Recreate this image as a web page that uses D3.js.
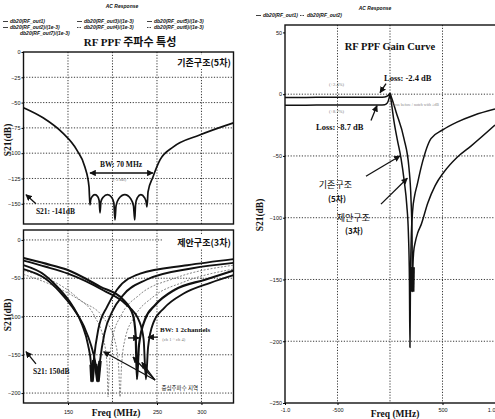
<!DOCTYPE html>
<html>
<head>
<meta charset="utf-8">
<script src="https://cdn.jsdelivr.net/npm/d3@7/dist/d3.min.js"></script>
<style>
  body { margin: 0; background: #fff; }
  svg { display: block; }
  text { font-family: "Liberation Serif", serif; fill: #111; }
  .kr { font-family: "Noto Sans CJK KR", sans-serif; }
  .tick text { font-family: "Liberation Sans", sans-serif; font-size: 5.5px; }
  .legend text { font-family: "Liberation Sans", sans-serif; font-size: 5px; font-style: italic; font-weight: bold; }
</style>
</head>
<body>
<svg id="chart" width="495" height="419"></svg>
<script>
// ---- data: left top (existing 5th-order structure) ----
const topFreq = [100, 122, 144, 160, 169, 173.6, 174.7, 175.5, 177, 180.3, 183.5, 185, 186,
  187, 189.5, 194.4, 199, 201.5, 202.8, 204, 207, 213.9, 220.5, 223.6, 225,
  226, 228, 231.9, 236, 237.8, 238.8, 240, 245.5, 253.4, 268, 298, 336];
const topS21 = [-55, -65, -80, -97, -113.6, -133, -151, -146, -143, -141, -143, -147, -159,
  -148, -143.5, -141, -143.5, -149, -166, -152, -145, -141, -145, -152, -166,
  -150, -144, -141, -144, -148, -153, -138, -123.5, -106.7, -94, -82, -70];

// ---- data: left bottom (proposed 3rd-order, several channels) ----
const ch1Freq = [100, 124, 141, 154.5, 166, 172.5, 176, 177, 179, 184, 194, 205, 231, 284, 336];
const ch1S21  = [-33, -46, -65, -85, -111, -137, -163, -185, -157, -117, -87, -65, -44, -33, -25];
const ch2Freq = [100, 124, 141, 155, 168, 176, 181, 183.7, 186, 191, 200, 212, 238, 290, 336];
const ch2S21  = [-38, -50, -68, -88, -113, -138, -162, -185, -158, -122, -93, -72, -52, -37, -30];
const ch3Freq = [100, 125, 149, 186, 212, 223, 226, 227.5, 229.8, 236.5, 248, 270, 304, 336];
const ch3S21  = [-23.5, -31, -39, -61, -78, -98, -124, -182, -137, -104, -85, -65, -52, -40];
const ch4Freq = [100, 125, 150, 190, 215, 230, 235, 237.6, 240, 246, 258, 280, 310, 336];
const ch4S21  = [-27, -35, -44, -66, -84, -106, -130, -182, -140, -108, -89, -70, -56, -46];
const sub1Freq = [100, 130, 160, 180, 190, 194, 195, 196.5, 200, 210, 230, 270, 336];
const sub1S21  = [-40, -52, -75, -100, -130, -165, -205, -165, -128, -98, -72, -50, -33];
const sub2Freq = [100, 130, 165, 190, 203, 207, 208.5, 210, 214, 225, 245, 280, 336];
const sub2S21  = [-45, -58, -80, -102, -133, -168, -205, -168, -130, -100, -75, -55, -38];

// ---- data: right (gain curve) ----
const gain5Freq = [-1000, -800, -600, -400, -200, -100, -50, -20, 0, 12, 38, 70, 105, 135, 160, 175, 185,
  190, 195, 202, 215, 235, 257, 300, 390, 500, 638, 800, 1000];
const gain5S21 = [-2.6, -2.6, -2.5, -2.5, -2.4, -2.4, -2.2, -1.2, 0.5, -6, -22, -37, -52, -70, -90, -112, -150,
  -205, -150, -118, -95, -82, -74, -58, -36, -29, -22.6, -17, -12];
const gain3Freq = [-1000, -800, -600, -400, -200, -100, -50, -25, -8, 0, 10, 60, 133, 181, 200, 210, 214,
  218, 225, 240, 265, 295, 360, 430, 514, 640, 771, 1000];
const gain3S21 = [-8.9, -8.9, -8.8, -8.8, -8.7, -8.7, -8.5, -7, -3, 0.5, -1.6, -15, -36, -60, -85, -115, -160,
  -140, -128, -120, -112, -106, -88, -74, -63, -51, -42, -25];

// ---- ticks ----
const leftXGrid = [150, 200, 250, 300];
const leftXTicks = [150, 250, 300];
const topYTicks = [0, -25, -50, -75, -100, -125, -150];
const botYTicks = [0, -50, -100, -150, -200];
const rightXGrid = [-500, 0, 500];
const rightXTicks = [-1000, -500, 500, 1000];
const rightXLabels = ['-1.0', '-500', '500', '1.0'];
const rightYTicks = [50, 0, -50, -100, -150, -200, -250];
const rightYGrid = [0, -50, -100, -150, -200];

const leftLegend = ['db20(RF_out1)', 'db20(RF_out3)/(1e-3)', 'db20(RF_out5)/(1e-3)',
  'db20(RF_out2)/(1e-3)', 'db20(RF_out4)/(1e-3)', 'db20(RF_out6)/(1e-3)', 'db20(RF_out7)/(1e-3)'];
const rightLegend = ['db20(RF_out1)', 'db20(RF_out2)'];

const svg = d3.select('#chart');

const defs = svg.append('defs');
defs.append('marker')
  .attr('id', 'arrow')
  .attr('viewBox', '0 0 10 10')
  .attr('refX', 9).attr('refY', 5)
  .attr('markerWidth', 5).attr('markerHeight', 5)
  .attr('orient', 'auto-start-reverse')
  .append('path')
  .attr('d', 'M0,0 L10,5 L0,10 z')
  .attr('fill', '#111');

// Draw a framed plot with dotted grid
function drawFrame(id, x, y, xGrid, yGrid, frameRight) {
  const [xl, xr] = x.range();
  const [yb, yt] = y.range();
  const right = frameRight || xr;
  const g = svg.append('g');

  defs.append('clipPath').attr('id', id)
    .append('rect').attr('x', xl).attr('y', yt).attr('width', right - xl).attr('height', yb - yt);

  g.selectAll('.vg').data(xGrid).join('line')
    .attr('x1', d => x(d)).attr('x2', d => x(d))
    .attr('y1', yt).attr('y2', yb)
    .attr('stroke', '#222').attr('stroke-width', 0.9)
    .attr('stroke-dasharray', '1.2,1.6');

  g.selectAll('.hg').data(yGrid).join('line')
    .attr('x1', xl).attr('x2', right)
    .attr('y1', d => y(d)).attr('y2', d => y(d))
    .attr('stroke', '#222').attr('stroke-width', 0.9)
    .attr('stroke-dasharray', '1.2,1.6');

  g.append('rect')
    .attr('x', xl).attr('y', yt)
    .attr('width', right - xl).attr('height', yb - yt)
    .attr('fill', 'none').attr('stroke', '#111').attr('stroke-width', 1.4);
  return g;
}

function drawCurve(id, x, y, freq, s21, width, dash, color) {
  const pts = freq.map((f, i) => [f, s21[i]]);
  const line = d3.line()
    .x(d => x(d[0]))
    .y(d => y(d[1]))
    .curve(d3.curveMonotoneX);
  svg.append('path')
    .datum(pts)
    .attr('clip-path', `url(#${id})`)
    .attr('d', line)
    .attr('fill', 'none')
    .attr('stroke', color || '#111')
    .attr('stroke-width', width)
    .attr('stroke-dasharray', dash || null)
    .attr('stroke-linejoin', 'round');
}

// heavy blob at the bottom of a notch (the scan shows these as dense black marks)
function drawNotch(id, x, y, freq, s21, lo, hi, width) {
  const pts = freq.map((f, i) => [f, s21[i]]).filter(d => d[1] <= hi && d[1] >= lo);
  svg.append('path')
    .datum(pts)
    .attr('clip-path', `url(#${id})`)
    .attr('d', d3.line().x(d => x(d[0])).y(d => y(d[1])))
    .attr('fill', 'none')
    .attr('stroke', '#111')
    .attr('stroke-width', width);
}

function arrow(x, y, a, b, both) {
  svg.append('line')
    .attr('x1', x(a[0])).attr('y1', y(a[1]))
    .attr('x2', x(b[0])).attr('y2', y(b[1]))
    .attr('stroke', '#111').attr('stroke-width', 1.3)
    .attr('marker-end', 'url(#arrow)')
    .attr('marker-start', both ? 'url(#arrow)' : null);
}

function label(x, y, pos, txt, size, opts) {
  opts = opts || {};
  return svg.append('text')
    .attr('class', opts.kr ? 'kr' : null)
    .attr('x', x(pos[0])).attr('y', y(pos[1]))
    .attr('text-anchor', opts.anchor || 'start')
    .attr('font-size', size)
    .attr('font-weight', opts.normal ? 'normal' : 'bold')
    .style('fill', opts.color || '#111')
    .text(txt);
}

// ================= LEFT PANEL =================
const xL = d3.scaleLinear().domain([100, 336]).range([23.5, 233.5]);
const yTop = d3.scaleLinear().domain([-170, 0]).range([224, 52]);
const yBot = d3.scaleLinear().domain([-213, 13]).range([403, 230]);

drawFrame('clipTop', xL, yTop, leftXGrid, topYTicks.filter(d => d < 0));
drawFrame('clipBot', xL, yBot, leftXGrid, botYTicks);

svg.append('g').attr('transform', 'translate(23.5,0)')
  .call(d3.axisLeft(yTop).tickValues(topYTicks).tickSize(2).tickPadding(1))
  .call(g => g.select('.domain').remove());
svg.append('g').attr('transform', 'translate(23.5,0)')
  .call(d3.axisLeft(yBot).tickValues(botYTicks).tickSize(2).tickPadding(1))
  .call(g => g.select('.domain').remove());
svg.append('g').attr('transform', 'translate(0,403)')
  .call(d3.axisBottom(xL).tickValues(leftXTicks).tickSize(2).tickPadding(5))
  .call(g => g.select('.domain').remove());

drawCurve('clipTop', xL, yTop, topFreq, topS21, 1.7);

drawCurve('clipBot', xL, yBot, sub1Freq, sub1S21, 0.8, '2,1.5', '#666');
drawCurve('clipBot', xL, yBot, sub2Freq, sub2S21, 0.8, '2,1.5', '#666');
drawCurve('clipBot', xL, yBot, ch1Freq, ch1S21, 1.9);
drawCurve('clipBot', xL, yBot, ch2Freq, ch2S21, 1.9);
drawCurve('clipBot', xL, yBot, ch3Freq, ch3S21, 2.2);
drawCurve('clipBot', xL, yBot, ch4Freq, ch4S21, 1.9);
[[ch1Freq, ch1S21], [ch2Freq, ch2S21], [ch3Freq, ch3S21], [ch4Freq, ch4S21]]
  .forEach(c => drawNotch('clipBot', xL, yBot, c[0], c[1], -190, -150, 3.5));

// titles
svg.append('text').attr('x', 122).attr('y', 8)
  .attr('text-anchor', 'middle').attr('font-size', 5).attr('font-style', 'italic').attr('font-weight', 'bold')
  .style('font-family', 'Liberation Sans, sans-serif').text('AC Response');
svg.append('text').attr('x', 130).attr('y', 46).attr('text-anchor', 'middle')
  .attr('font-size', 11).attr('font-weight', 'bold')
  .html('RF PPF <tspan class="kr">주파수 특성</tspan>');

// left legend
const legL = svg.append('g').attr('class', 'legend');
leftLegend.forEach((t, i) => {
  const col = i < 6 ? i % 3 : 0;
  const row = i < 6 ? Math.floor(i / 3) : 2;
  const lx = [3, 77, 147][col] + (row === 2 ? 10 : 0);
  const ly = 23 + row * 6;
  if (row < 2) {
    legL.append('line').attr('x1', lx).attr('x2', lx + 5).attr('y1', ly - 1.5).attr('y2', ly - 1.5)
      .attr('stroke', '#111').attr('stroke-width', 0.8)
      .attr('stroke-dasharray', row === 1 && col > 0 ? '1.5,1' : null);
  }
  legL.append('text').attr('x', lx + 7).attr('y', ly).text(t);
});

// y titles
[140, 315].forEach(yy => {
  svg.append('text').attr('transform', `translate(11,${yy}) rotate(-90)`)
    .attr('text-anchor', 'middle').attr('font-size', 9.5).attr('font-weight', 'bold').text('S21(dB)');
});
svg.append('text').attr('x', 116).attr('y', 416).attr('text-anchor', 'middle')
  .attr('font-size', 9.5).attr('font-weight', 'bold').text('Freq (MHz)');

// top annotations
svg.append('rect').attr('x', 162).attr('y', 55).attr('width', 70).attr('height', 14).attr('fill', '#fff');
label(xL, yTop, [333, -13.8], '기존구조(5차)', 9, { kr: true, anchor: 'end' });
label(xL, yTop, [209.6, -113.6], 'BW: 70 MHz', 7.5, { anchor: 'middle' });
arrow(xL, yTop, [174.7, -119.6], [245.5, -119.6], true);
label(xL, yTop, [208, -127.5], '(-3 dB)', 4.5, { anchor: 'middle', normal: true, color: '#777' });
label(xL, yTop, [114, -160], 'S21: -141dB', 7.5);
arrow(xL, yTop, [114, -150], [102.8, -141]);

// bottom annotations
svg.append('rect').attr('x', 162).attr('y', 234).attr('width', 70).attr('height', 15).attr('fill', '#fff');
label(xL, yBot, [333, -7.8], '제안구조(3차)', 9, { kr: true, anchor: 'end' });
label(xL, yBot, [253.4, -120], 'BW: 1 2channels', 7);
arrow(xL, yBot, [217.4, -128], [229.8, -128]);
arrow(xL, yBot, [251, -127], [240, -127]);
label(xL, yBot, [256, -132], '(ch 1 ~ ch 4)', 4.5, { normal: true, color: '#777' });
label(xL, yBot, [110.7, -175], 'S21: 150dB', 7.5);
arrow(xL, yBot, [114, -162], [102.8, -146]);
label(xL, yBot, [255, -196], '중심주파수 지역', 5.5, { kr: true, normal: true });
[[190, -146], [223, -153], [233, -160]].forEach(p => arrow(xL, yBot, [247.8, -183], p));

// ================= RIGHT PANEL =================
const xR = d3.scaleLinear().domain([-1000, 1000]).range([285, 495]);
const yR = d3.scaleLinear().domain([-250, 56]).range([403, 25]);

drawFrame('clipR', xR, yR, rightXGrid, rightYGrid, 500);

svg.append('g').attr('transform', 'translate(285,0)')
  .call(d3.axisLeft(yR).tickValues(rightYTicks).tickSize(2).tickPadding(1))
  .call(g => g.select('.domain').remove());
svg.append('g').attr('transform', 'translate(0,403)')
  .call(d3.axisBottom(xR).tickValues(rightXTicks).tickSize(2).tickPadding(3)
    .tickFormat((d, i) => rightXLabels[i]))
  .call(g => g.select('.domain').remove())
  .call(g => g.selectAll('.tick:last-of-type text').attr('text-anchor', 'end'));

drawCurve('clipR', xR, yR, gain3Freq, gain3S21, 1.5);
drawCurve('clipR', xR, yR, gain5Freq, gain5S21, 1.5);
drawNotch('clipR', xR, yR, gain5Freq, gain5S21, -165, -135, 4);
drawNotch('clipR', xR, yR, gain3Freq, gain3S21, -165, -135, 4);

svg.append('text').attr('x', 375).attr('y', 10)
  .attr('text-anchor', 'middle').attr('font-size', 5).attr('font-style', 'italic').attr('font-weight', 'bold')
  .style('font-family', 'Liberation Sans, sans-serif').text('AC Response');
const legR = svg.append('g').attr('class', 'legend');
rightLegend.forEach((t, i) => {
  const lx = [256, 300][i];
  legR.append('line').attr('x1', lx).attr('x2', lx + 5).attr('y1', 15.5).attr('y2', 15.5)
    .attr('stroke', '#111').attr('stroke-width', 0.8)
    .attr('stroke-dasharray', i === 1 ? '1.5,1' : null);
  legR.append('text').attr('x', lx + 7).attr('y', 17).text(t);
});

svg.append('text').attr('x', 390).attr('y', 50).attr('text-anchor', 'middle')
  .attr('font-size', 10.5).attr('font-weight', 'bold').text('RF PPF Gain Curve');
svg.append('text').attr('transform', 'translate(263,215) rotate(-90)')
  .attr('text-anchor', 'middle').attr('font-size', 9.5).attr('font-weight', 'bold').text('S21(dB)');
svg.append('text').attr('x', 395).attr('y', 417).attr('text-anchor', 'middle')
  .attr('font-size', 9.5).attr('font-weight', 'bold').text('Freq (MHz)');

label(xR, yR, [-57, 10.9], 'Loss: -2.4 dB', 8.5);
arrow(xR, yR, [-38, 8.5], [-95, 1.2]);
label(xR, yR, [-705, -29.4], 'Loss: -8.7 dB', 8.5);
arrow(xR, yR, [-181, -21.3], [-124, -9.3]);
label(xR, yR, [-581, 6.8], '(+2.4%)', 4.5, { normal: true, color: '#777' });
label(xR, yR, [-581, -15], '(+8.7%)', 4.5, { normal: true, color: '#777' });
label(xR, yR, [20, -9.5], 'Loss before / notch with ±dB', 4, { normal: true, color: '#888' });
label(xR, yR, [-520, -76], '기존구조', 9, { kr: true, normal: true, anchor: 'middle' });
label(xR, yR, [-505, -87], '(5차)', 8, { kr: true, anchor: 'middle' });
arrow(xR, yR, [-229, -66.4], [95, -50]);
label(xR, yR, [-350, -102.7], '제안구조', 9, { kr: true, normal: true, anchor: 'middle' });
label(xR, yR, [-343, -113], '(3차)', 8, { kr: true, anchor: 'middle' });
arrow(xR, yR, [-86, -89], [165, -68]);
</script>
</body>
</html>
